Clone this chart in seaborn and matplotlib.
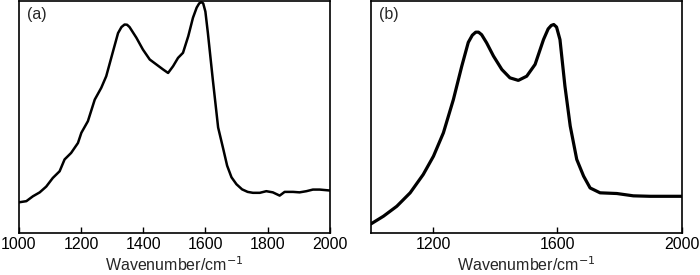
import numpy as np
import pandas as pd
import matplotlib.pyplot as plt
import seaborn as sns

# Data
# --------------

wn_a = [1000, 1024, 1045, 1067, 1088, 1109, 1131, 1147, 1168, 1190, 1201, 1222,
        1244, 1265, 1281, 1303, 1319, 1330, 1340, 1348, 1356, 1378, 1399, 1421,
        1442, 1464, 1480, 1496, 1512, 1528, 1545, 1560, 1572, 1580, 1587, 1593,
        1600, 1608, 1624, 1641, 1657, 1670, 1684, 1700, 1718, 1736, 1753, 1775,
        1796, 1817, 1839, 1855, 1882, 1903, 1925, 1946, 1968, 2000]
int_a = [0.132, 0.137, 0.158, 0.175, 0.200, 0.237, 0.266, 0.317, 0.345, 0.388,
         0.432, 0.482, 0.575, 0.626, 0.676, 0.784, 0.862, 0.888, 0.899, 0.898,
         0.888, 0.842, 0.791, 0.748, 0.727, 0.705, 0.690, 0.719, 0.755, 0.777,
         0.849, 0.928, 0.972, 0.990, 0.996, 0.990, 0.955, 0.863, 0.660, 0.455,
         0.365, 0.290, 0.240, 0.210, 0.188, 0.177, 0.173, 0.173, 0.180, 0.175,
         0.161, 0.177, 0.177, 0.175, 0.180, 0.187, 0.187, 0.183]

wn_b = [1000, 1040, 1083, 1126, 1168, 1201, 1233, 1265, 1292, 1313, 1326, 1337,
        1346, 1356, 1372, 1394, 1421, 1447, 1474, 1501, 1528, 1555, 1570, 1580,
        1588, 1597, 1608, 1624, 1641, 1662, 1684, 1705, 1737, 1791, 1844, 1898,
        1952, 2000]
int_b = [0.039, 0.072, 0.115, 0.173, 0.252, 0.331, 0.432, 0.575, 0.719, 0.822,
         0.853, 0.866, 0.866, 0.855, 0.820, 0.763, 0.705, 0.669, 0.658, 0.676,
         0.727, 0.834, 0.880, 0.895, 0.899, 0.888, 0.834, 0.633, 0.461, 0.317,
         0.245, 0.194, 0.173, 0.170, 0.160, 0.158, 0.158, 0.158]

ticks_a = [1000, 1200, 1400, 1600, 1800, 2000]
ticks_b = [1200, 1600, 2000]

# Set-up
# --------------

sns.set_theme(style="ticks")
plt.rcParams['font.family'] = ['Liberation Sans', 'DejaVu Sans']

figure = plt.figure(figsize=(7, 2.75), dpi=100)
ax_a = figure.add_axes([0.027, 0.153, 0.444, 0.843])
ax_b = figure.add_axes([0.530, 0.153, 0.444, 0.843])

# Plotting
# --------------

sns.lineplot(x=wn_a, y=int_a, ax=ax_a, color="black", linewidth=1.8)
sns.lineplot(x=wn_b, y=int_b, ax=ax_b, color="black", linewidth=2.3)

for ax, ticks, tag in [(ax_a, ticks_a, "(a)"), (ax_b, ticks_b, "(b)")]:
    ax.set_xlim(1000, 2000)
    ax.set_ylim(0, 1.0)
    ax.set_xticks(ticks)
    ax.set_yticks([])
    ax.tick_params(axis="x", direction="in", length=4, width=1, labelsize=11.5,
                   pad=3, colors="black")
    for spine in ax.spines.values():
        spine.set_visible(True)
        spine.set_linewidth(1.2)
        spine.set_color("black")
    ax.set_xlabel("Wavenumber/cm$^{-1}$", fontsize=11.5, labelpad=2.5)
    ax.set_ylabel("")
    ax.text(0.025, 0.975, tag, transform=ax.transAxes, ha="left", va="top",
            fontsize=11.5)

# Rendering
# --------------

figure.savefig("out.png", dpi=100)
